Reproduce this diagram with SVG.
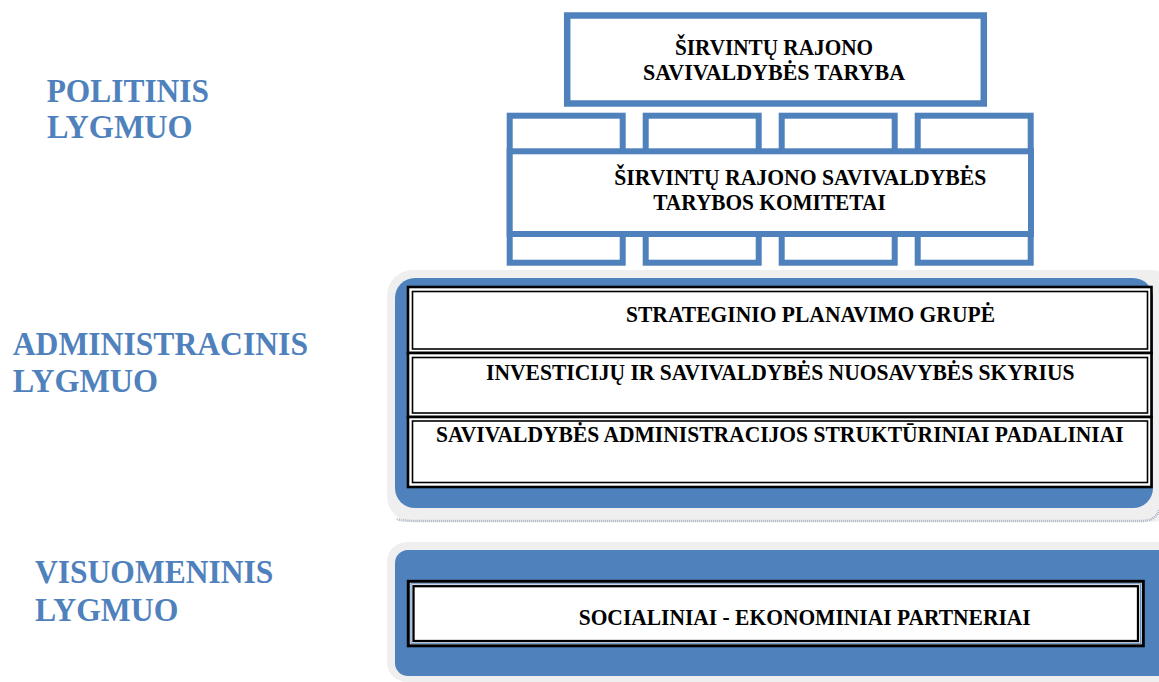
<svg xmlns="http://www.w3.org/2000/svg" width="1159" height="682" viewBox="0 0 1159 682">
<style>
.bx{fill:#ffffff;stroke:#4F81BD;stroke-width:6}
.t{font-family:"Liberation Serif","Times New Roman",serif;font-weight:bold;font-size:22.5px;fill:#000000}
.lbl{font-family:"Liberation Serif","Times New Roman",serif;font-weight:bold;font-size:33px;fill:#4F81BD}
.halo{fill:#EFEFEF}
.panel{fill:#4F81BD}
.o{fill:none;stroke:#000000;stroke-width:2.6}
.i{fill:none;stroke:#000000;stroke-width:1.6}
</style>
<rect width="1159" height="682" fill="#ffffff"/>

<g id="labels">
<text class="lbl" x="46.7" y="101.7" textLength="162.3" lengthAdjust="spacingAndGlyphs">POLITINIS</text>
<text class="lbl" x="47" y="138.3" textLength="145.7" lengthAdjust="spacingAndGlyphs">LYGMUO</text>
<text class="lbl" x="12.7" y="355" textLength="295.3" lengthAdjust="spacingAndGlyphs">ADMINISTRACINIS</text>
<text class="lbl" x="12.7" y="391.7" textLength="145.3" lengthAdjust="spacingAndGlyphs">LYGMUO</text>
<text class="lbl" x="35" y="582.7" textLength="238.3" lengthAdjust="spacingAndGlyphs">VISUOMENINIS</text>
<text class="lbl" x="35" y="621" textLength="143.3" lengthAdjust="spacingAndGlyphs">LYGMUO</text>
</g>

<g id="taryba">
<rect x="567.2" y="15.5" width="416.6" height="88" fill="#ffffff" stroke="#4F81BD" stroke-width="6.5"/>
<text class="t" x="675" y="55" textLength="198" lengthAdjust="spacingAndGlyphs">ŠIRVINTŲ RAJONO</text>
<text class="t" x="643" y="80" textLength="262" lengthAdjust="spacingAndGlyphs">SAVIVALDYBĖS TARYBA</text>
</g>

<g id="komitetai">
<rect class="bx" x="509.7" y="115.7" width="113" height="147"/>
<rect class="bx" x="645.7" y="115.7" width="113" height="147"/>
<rect class="bx" x="781.7" y="115.7" width="113" height="147"/>
<rect class="bx" x="917.7" y="115.7" width="113" height="147"/>
<rect class="bx" x="509.7" y="151.3" width="521.3" height="82.7"/>
<text class="t" x="614.3" y="184.5" textLength="372" lengthAdjust="spacingAndGlyphs">ŠIRVINTŲ RAJONO SAVIVALDYBĖS</text>
<text class="t" x="653.2" y="209.5" textLength="232.5" lengthAdjust="spacingAndGlyphs">TARYBOS KOMITETAI</text>
</g>

<g id="administracinis-panel">
<rect class="halo" x="387" y="270" width="790" height="252" rx="26"/>
<path d="M397 519 Q400 521 420 521 L1140 521 Q1156 521 1159 510" fill="none" stroke="#A9B3C2" stroke-width="2.5" stroke-dasharray="1 1"/>
<rect class="panel" x="395" y="278" width="758" height="230" rx="20"/>
</g>

<g id="strateginio-grupe">
<rect x="408" y="287" width="743.5" height="66" fill="#ffffff"/>
<rect class="o" x="408" y="287" width="743.5" height="66"/>
<rect class="i" x="412.5" y="291.5" width="735" height="57.5"/>
<text class="t" x="626" y="322" textLength="369" lengthAdjust="spacingAndGlyphs">STRATEGINIO PLANAVIMO GRUPĖ</text>
</g>

<g id="investiciju-skyrius">
<rect x="408" y="353" width="743.5" height="64" fill="#ffffff"/>
<rect class="o" x="408" y="353" width="743.5" height="64"/>
<rect class="i" x="412.5" y="357.5" width="735" height="55.5"/>
<text class="t" x="486" y="380" textLength="588.5" lengthAdjust="spacingAndGlyphs">INVESTICIJŲ IR SAVIVALDYBĖS NUOSAVYBĖS SKYRIUS</text>
</g>

<g id="padaliniai">
<rect x="408" y="417" width="743.5" height="70" fill="#ffffff"/>
<rect class="o" x="408" y="417" width="743.5" height="70"/>
<rect class="i" x="412.5" y="421" width="735" height="61.5"/>
<text class="t" x="436" y="442" textLength="687.7" lengthAdjust="spacingAndGlyphs">SAVIVALDYBĖS ADMINISTRACIJOS STRUKTŪRINIAI PADALINIAI</text>
</g>

<g id="visuomeninis-panel">
<rect class="halo" x="387" y="542" width="790" height="140" rx="20"/>
<rect class="panel" x="395" y="550" width="780" height="126" rx="13"/>
</g>

<g id="partneriai">
<rect x="408.3" y="581.3" width="735" height="64.5" fill="#ffffff" stroke="#000000" stroke-width="3"/>
<rect x="411" y="583.8" width="729.6" height="59.5" fill="none" stroke="#4F81BD" stroke-width="1"/>
<rect x="413.5" y="586.2" width="724.5" height="54.8" fill="none" stroke="#000000" stroke-width="2.3"/>
<text class="t" x="578.7" y="625" textLength="452" lengthAdjust="spacingAndGlyphs">SOCIALINIAI - EKONOMINIAI PARTNERIAI</text>
</g>

<g id="connectors"/>
</svg>
